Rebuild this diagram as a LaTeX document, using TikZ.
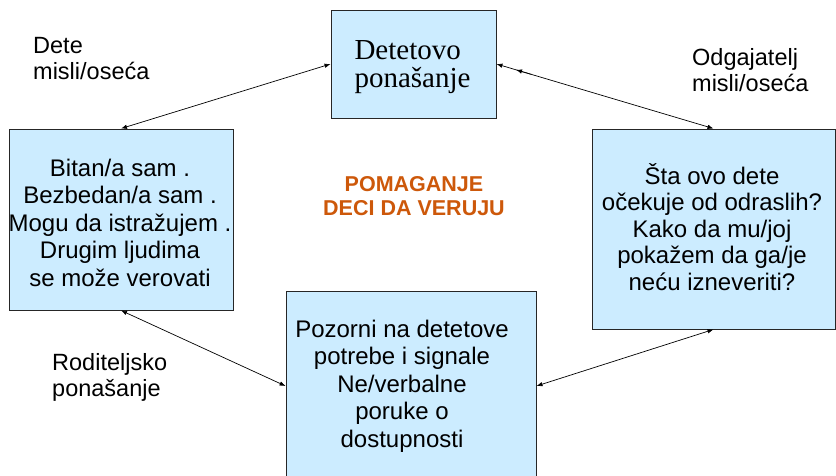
\documentclass[tikz,border=0pt]{standalone}
\usepackage{fontspec}
\setmainfont{Liberation Sans}
\newfontfamily\serifface{Liberation Serif}
\usetikzlibrary{arrows.meta,calc}
\definecolor{boxblue}{HTML}{CCECFF}
\definecolor{titleorange}{RGB}{205,88,10}
\begin{document}
\begin{tikzpicture}[x=1pt,y=-1pt,
  box/.style={draw=black!85, line width=0.9pt, fill=boxblue, inner sep=0pt},
  boxtext/.style={align=center, inner sep=0pt, font=\fontsize{24}{27.5}\selectfont},
  lbl/.style={align=left, inner sep=0pt, anchor=north west, font=\fontsize{23.5}{26}\selectfont},
  link/.style={draw, line width=0.7pt, {Latex[length=6pt,width=4.5pt]}-{Latex[length=6pt,width=4.5pt]}}]
\useasboundingbox (0,0) rectangle (836,476);
\clip (0,0) rectangle (836,476);
\fill[white] (0,0) rectangle (836,476);
% boxes
\node[box, minimum width=165pt, minimum height=108pt] (top) at (413.5,64) {};
\node[box, minimum width=224pt, minimum height=181pt] (left) at (121,219.5) {};
\node[box, minimum width=243pt, minimum height=200pt] (right) at (713.5,229) {};
\node[box, minimum width=250pt, minimum height=190pt] (bottom) at (411,386) {};
% box texts
\node[align=left, inner sep=0pt, font=\serifface\fontsize{29}{28.5}\selectfont] (toptext) at (412.5,67) {Detetovo\\ponašanje};
\node[boxtext] (lefttext) at (120,222.5) {Bitan/a sam .\\Bezbedan/a sam .\\Mogu da istražujem\ .\\Drugim ljudima\\se može verovati};
\node[boxtext, font=\fontsize{24}{26.5}\selectfont] (righttext) at (712,227) {Šta ovo dete\\očekuje od odraslih?\\Kako da mu/joj\\pokažem da ga/je\\neću izneveriti?};
\node[boxtext] (bottomtext) at (402,386) {Pozorni na detetove\\potrebe i signale\\Ne/verbalne\\poruke o\\dostupnosti};
% title
\node[align=center, inner sep=0pt, text=titleorange, font=\bfseries\fontsize{21.5}{23.5}\selectfont] (title) at (414,196) {POMAGANJE\\DECI DA VERUJU};
% labels
\node[lbl] (childlbl) at (33,37) {Dete\\misli/oseća};
\node[lbl] (carerlbl) at (692,48) {Odgajatelj\\misli/oseća};
\node[lbl] (parentlbl) at (52,353) {Roditeljsko\\ponašanje};
% connectors
\draw[link] (top.west) -- (left.north);
\draw[link] (top.east) -- (right.north);
\draw[link] (left.south) -- (bottom.west);
\draw[link] (bottom.east) -- (right.south);
\coordinate (extraA) at ($(top.east)!0.16!(right.north)$);
\coordinate (extraB) at ($(top.east)!0.09!(right.north)$);
\draw[line width=0.7pt, -{Latex[length=6pt,width=4.5pt]}] (extraA) -- (extraB);
\end{tikzpicture}
\end{document}
